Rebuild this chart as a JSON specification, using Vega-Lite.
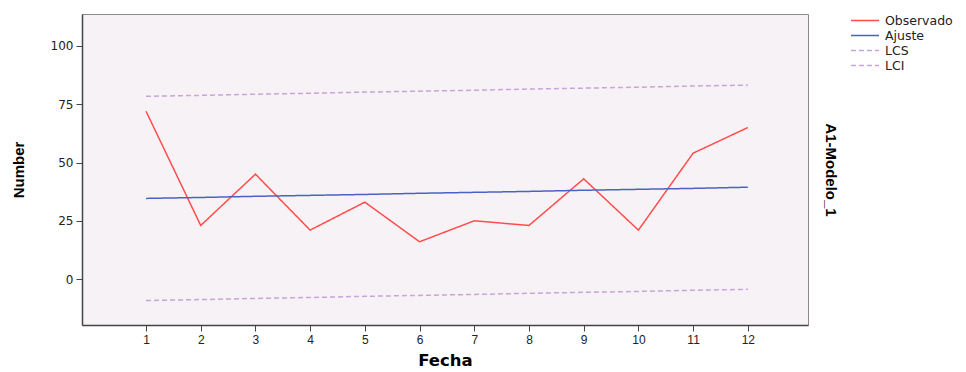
{
  "$schema": "https://vega.github.io/schema/vega-lite/v6.json",
  "width": 726,
  "height": 311,
  "autosize": {"type": "none"},
  "padding": {"left": 82, "top": 14, "right": 158, "bottom": 47},
  "background": "white",
  "config": {
    "font": "Liberation Sans",
    "view": {"fill": "#F7F2F6", "stroke": "#8a8a8a", "strokeWidth": 1},
    "axis": {"labelFont": "Liberation Sans", "titleFont": "Liberation Sans", "labelColor": "#222", "titleColor": "#000", "domainColor": "#444", "tickColor": "#444", "grid": false, "labelFontSize": 11.5, "titleFontSize": 15, "titleFontWeight": "bold"}
  },
  "data": {"values": [
    {"Fecha": 1, "serie": "Observado", "valor": 72},
    {"Fecha": 2, "serie": "Observado", "valor": 23},
    {"Fecha": 3, "serie": "Observado", "valor": 45},
    {"Fecha": 4, "serie": "Observado", "valor": 21},
    {"Fecha": 5, "serie": "Observado", "valor": 33},
    {"Fecha": 6, "serie": "Observado", "valor": 16},
    {"Fecha": 7, "serie": "Observado", "valor": 25},
    {"Fecha": 8, "serie": "Observado", "valor": 23},
    {"Fecha": 9, "serie": "Observado", "valor": 43},
    {"Fecha": 10, "serie": "Observado", "valor": 21},
    {"Fecha": 11, "serie": "Observado", "valor": 54},
    {"Fecha": 12, "serie": "Observado", "valor": 65},
    {"Fecha": 1, "serie": "Ajuste", "valor": 34.6},
    {"Fecha": 2, "serie": "Ajuste", "valor": 35.0},
    {"Fecha": 3, "serie": "Ajuste", "valor": 35.5},
    {"Fecha": 4, "serie": "Ajuste", "valor": 35.9},
    {"Fecha": 5, "serie": "Ajuste", "valor": 36.3},
    {"Fecha": 6, "serie": "Ajuste", "valor": 36.8},
    {"Fecha": 7, "serie": "Ajuste", "valor": 37.2},
    {"Fecha": 8, "serie": "Ajuste", "valor": 37.6},
    {"Fecha": 9, "serie": "Ajuste", "valor": 38.1},
    {"Fecha": 10, "serie": "Ajuste", "valor": 38.5},
    {"Fecha": 11, "serie": "Ajuste", "valor": 38.9},
    {"Fecha": 12, "serie": "Ajuste", "valor": 39.4},
    {"Fecha": 1, "serie": "LCS", "valor": 78.4},
    {"Fecha": 2, "serie": "LCS", "valor": 78.8},
    {"Fecha": 3, "serie": "LCS", "valor": 79.3},
    {"Fecha": 4, "serie": "LCS", "valor": 79.7},
    {"Fecha": 5, "serie": "LCS", "valor": 80.2},
    {"Fecha": 6, "serie": "LCS", "valor": 80.6},
    {"Fecha": 7, "serie": "LCS", "valor": 81.0},
    {"Fecha": 8, "serie": "LCS", "valor": 81.5},
    {"Fecha": 9, "serie": "LCS", "valor": 81.9},
    {"Fecha": 10, "serie": "LCS", "valor": 82.3},
    {"Fecha": 11, "serie": "LCS", "valor": 82.8},
    {"Fecha": 12, "serie": "LCS", "valor": 83.2},
    {"Fecha": 1, "serie": "LCI", "valor": -9.2},
    {"Fecha": 2, "serie": "LCI", "valor": -8.8},
    {"Fecha": 3, "serie": "LCI", "valor": -8.3},
    {"Fecha": 4, "serie": "LCI", "valor": -7.9},
    {"Fecha": 5, "serie": "LCI", "valor": -7.4},
    {"Fecha": 6, "serie": "LCI", "valor": -7.0},
    {"Fecha": 7, "serie": "LCI", "valor": -6.6},
    {"Fecha": 8, "serie": "LCI", "valor": -6.1},
    {"Fecha": 9, "serie": "LCI", "valor": -5.7},
    {"Fecha": 10, "serie": "LCI", "valor": -5.3},
    {"Fecha": 11, "serie": "LCI", "valor": -4.8},
    {"Fecha": 12, "serie": "LCI", "valor": -4.4}
  ]},
  "layer": [
    {
      "mark": {"type": "line", "strokeWidth": 1.5},
      "encoding": {
        "x": {"field": "Fecha", "type": "quantitative", "scale": {"domain": [-0.17, 13.1], "nice": false, "zero": false},
          "axis": {"values": [1,2,3,4,5,6,7,8,9,10,11,12], "format": "d", "tickSize": 6, "labelPadding": 3, "labelFontSize": 12, "titlePadding": 7, "domainWidth": 1.5, "title": "Fecha", "titleFont": "DejaVu Sans", "titleFontSize": 16.5}},
        "y": {"field": "valor", "type": "quantitative", "scale": {"domain": [-19.7, 113.7], "nice": false, "zero": false},
          "axis": {"values": [0, 25, 50, 75, 100], "tickSize": 6, "labelPadding": 3, "labelFont": "DejaVu Sans", "labelFontSize": 12, "titlePadding": 24, "domainWidth": 1.5, "title": "Number"}},
        "color": {"field": "serie", "type": "nominal",
          "scale": {"domain": ["Observado", "Ajuste", "LCS", "LCI"], "range": ["#FF4D4D", "#4A62C2", "#C9A3DC", "#C9A3DC"]},
          "legend": {"title": null, "orient": "none", "legendX": 768, "legendY": 0, "padding": 0, "symbolType": "stroke", "symbolSize": 784, "symbolStrokeWidth": 1.5, "clipHeight": 13, "rowPadding": 2, "labelFont": "DejaVu Sans", "labelFontSize": 12.5, "labelColor": "#222", "labelOffset": 5}},
        "strokeDash": {"field": "serie", "type": "nominal",
          "scale": {"domain": ["Observado", "Ajuste", "LCS", "LCI"], "range": [[1, 0], [1, 0], [5, 3], [5, 3]]},
          "legend": null},
        "detail": {"field": "serie"}
      }
    },
    {
      "mark": {"type": "line", "opacity": 0},
      "encoding": {
        "x": {"field": "Fecha", "type": "quantitative", "scale": {"domain": [-0.17, 13.1], "nice": false, "zero": false}},
        "y": {"field": "valor", "type": "quantitative", "scale": {"domain": [-19.7, 113.7], "nice": false, "zero": false},
          "axis": {"orient": "right", "labels": false, "ticks": false, "domain": false, "title": "A1-Modelo_1", "titlePadding": 14, "titleAngle": 90, "titleFontSize": 15}},
        "detail": {"field": "serie"}
      }
    }
  ],
  "resolve": {"scale": {"y": "independent"}}
}
